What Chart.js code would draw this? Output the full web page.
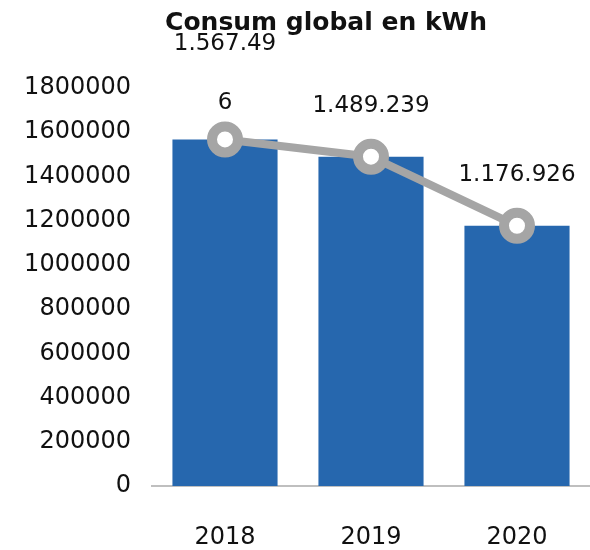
<!doctype html>
<html lang="ca">
<head>
    <meta charset="UTF-8">
    <title>Consum global en kWh</title>
    <script src="https://cdn.jsdelivr.net/npm/chart.js"></script>
    <style>
        html, body {
            margin: 0;
            padding: 0;
            background: #fff;
            overflow: hidden;
        }
        canvas {
            display: block;
        }
    </style>
</head>
<body>
    <canvas id="consumChart" width="590" height="550"></canvas>

    <script>
        const years = ['2018', '2019', '2020'];
        const consumKwh = [1567496, 1489239, 1176926];
        // labels as Excel drew them (first one wrapped)
        const pointLabels = [['1.567.49', '6'], ['1.489.239'], ['1.176.926']];
        const yTicks = [0, 200000, 400000, 600000, 800000, 1000000, 1200000, 1400000, 1600000, 1800000];

        const FONT = '"DejaVu Sans", sans-serif';

        // title drawn by hand, Excel put it a bit right of centre
        const titlePlugin = {
            id: 'offsetTitle',
            afterDraw(chart) {
                const ctx = chart.ctx;
                ctx.save();
                ctx.font = 'bold 25px ' + FONT;
                ctx.fillStyle = '#111';
                ctx.textAlign = 'center';
                ctx.textBaseline = 'middle';
                ctx.fillText('Consum global en kWh', 326, 23);
                ctx.restore();
            }
        };

        const labelPlugin = {
            id: 'pointLabels',
            afterDatasetsDraw(chart) {
                const ctx = chart.ctx;
                const meta = chart.getDatasetMeta(1);
                ctx.save();
                ctx.font = '23px ' + FONT;
                ctx.fillStyle = '#111';
                ctx.textAlign = 'center';
                ctx.textBaseline = 'middle';
                meta.data.forEach((pt, i) => {
                    const lines = pointLabels[i];
                    if (lines.length > 1) {
                        // wrapped label: last line close to the point, wide gap
                        let y = pt.y - 36;
                        for (let k = lines.length - 1; k >= 0; k--) {
                            ctx.fillText(lines[k], pt.x, y);
                            y -= 59;
                        }
                    } else {
                        ctx.fillText(lines[0], pt.x, pt.y - 51);
                    }
                });
                ctx.restore();
            }
        };

        new Chart(document.getElementById('consumChart'), {
            data: {
                labels: years,
                datasets: [{
                    type: 'bar',
                    data: consumKwh,
                    backgroundColor: '#2667AE',
                    barPercentage: 0.72,
                    categoryPercentage: 1,
                    order: 1
                }, {
                    type: 'line',
                    data: consumKwh,
                    borderColor: '#A5A5A5',
                    borderWidth: 8,
                    pointRadius: 13,
                    pointBorderWidth: 10,
                    pointBackgroundColor: '#fff',
                    pointBorderColor: '#A5A5A5',
                    order: 0,
                    clip: false
                }]
            },
            options: {
                responsive: false,
                animation: false,
                layout: {
                    autoPadding: false,
                    padding: { top: 88, right: 0, left: 24, bottom: 0 }
                },
                scales: {
                    x: {
                        grid: { display: false, drawTicks: false },
                        border: { display: true, color: '#BFBFBF', width: 2 },
                        ticks: {
                            color: '#111',
                            font: { family: FONT, size: 24 },
                            padding: 37
                        },
                        // chart.js reserves the padding twice, keep it tight
                        afterFit(axis) {
                            axis.height = 64;
                        }
                    },
                    y: {
                        min: 0,
                        max: 1800000,
                        grid: { display: false, drawTicks: false },
                        border: { display: false },
                        afterBuildTicks(axis) {
                            axis.ticks = yTicks.map(v => ({ value: v }));
                        },
                        ticks: {
                            color: '#111',
                            font: { family: FONT, size: 24 },
                            padding: 21,
                            callback: v => String(v)
                        },
                        afterFit(axis) {
                            axis.width = 128;
                        }
                    }
                },
                plugins: {
                    legend: { display: false },
                    title: { display: false },
                    tooltip: { enabled: false }
                }
            },
            plugins: [titlePlugin, labelPlugin]
        });
    </script>
</body>
</html>
